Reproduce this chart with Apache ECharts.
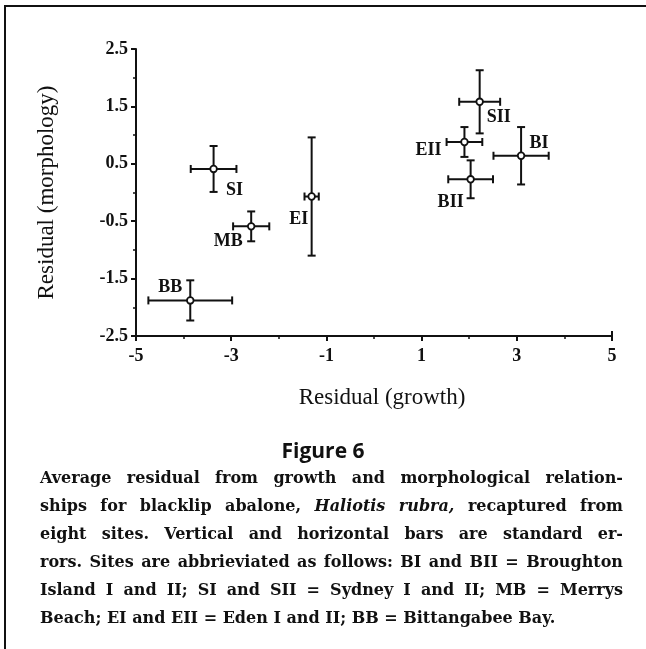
<!DOCTYPE html>
<html>
<head>
<meta charset="utf-8">
<script src="https://cdn.jsdelivr.net/npm/echarts@6/dist/echarts.min.js"></script>
<style>
  html, body { margin: 0; padding: 0; background: #fff; }
  #wrap { position: relative; width: 646px; height: 649px; overflow: hidden; }
  #frame { position: absolute; left: 4px; top: 5px; width: 700px; height: 700px;
           border-left: 2px solid #111; border-top: 2px solid #111; }
  #chart { position: absolute; left: 0; top: 0; width: 646px; height: 649px; }
  #caption { position: absolute; left: 40px; top: 464px; width: 583px;
             font-family: "DejaVu Serif", serif; font-weight: bold; font-size: 16px;
             line-height: 28px; color: #111; }
  #caption div { text-align: justify; text-align-last: justify; white-space: nowrap; }
  #caption div.last { text-align-last: left; }
</style>
</head>
<body>
<div id="wrap">
  <div id="frame"></div>
  <div id="chart"></div>
  <div id="caption">
    <div>Average residual from growth and morphological relation-</div>
    <div>ships for blacklip abalone, <i>Haliotis rubra,</i> recaptured from</div>
    <div>eight sites. Vertical and horizontal bars are standard er-</div>
    <div>rors. Sites are abbrieviated as follows: BI and BII = Broughton</div>
    <div>Island I and II; SI and SII = Sydney I and II; MB = Merrys</div>
    <div class="last">Beach; EI and EII = Eden I and II; BB = Bittangabee Bay.</div>
  </div>
</div>
<script>
// site data
var sites = ['SI', 'MB', 'BB', 'EI', 'EII', 'SII', 'BII', 'BI'];
var growth = [-3.37, -2.58, -3.86, -1.31, 1.90, 2.22, 2.03, 3.09];
var morph = [0.41, -0.59, -1.88, -0.07, 0.88, 1.58, 0.23, 0.64];
var growthSE = [0.48, 0.38, 0.88, 0.15, 0.375, 0.43, 0.47, 0.58];
var morphSE = [0.40, 0.26, 0.35, 1.03, 0.26, 0.55, 0.33, 0.50];

// label placement (px from point)
var labelOffsets = [[21, 21], [-23, 15], [-20, -13], [-13, 23], [-36, 8], [19, 16], [-20, 23], [18, -12]];

var chart = echarts.init(document.getElementById('chart'));

var data = sites.map(function (s, i) {
  return [growth[i], morph[i], growthSE[i], morphSE[i], i];
});

var ink = '#111';
var serif = '"Liberation Serif", "Times New Roman", serif';

function renderItem(params, api) {
  var x = api.value(0), y = api.value(1);
  var sx = api.value(2), sy = api.value(3);
  var i = api.value(4);
  var c = api.coord([x, y]);
  var l = api.coord([x - sx, y]);
  var r = api.coord([x + sx, y]);
  var t = api.coord([x, y + sy]);
  var b = api.coord([x, y - sy]);
  var cap = 4;
  var ls = { stroke: ink, lineWidth: 2 };
  var off = labelOffsets[i];
  return {
    type: 'group',
    children: [
      { type: 'line', shape: { x1: l[0], y1: l[1], x2: r[0], y2: r[1] }, style: ls },
      { type: 'line', shape: { x1: t[0], y1: t[1], x2: b[0], y2: b[1] }, style: ls },
      { type: 'line', shape: { x1: l[0], y1: l[1] - cap, x2: l[0], y2: l[1] + cap }, style: ls },
      { type: 'line', shape: { x1: r[0], y1: r[1] - cap, x2: r[0], y2: r[1] + cap }, style: ls },
      { type: 'line', shape: { x1: t[0] - cap, y1: t[1], x2: t[0] + cap, y2: t[1] }, style: ls },
      { type: 'line', shape: { x1: b[0] - cap, y1: b[1], x2: b[0] + cap, y2: b[1] }, style: ls },
      { type: 'circle', shape: { cx: c[0], cy: c[1], r: 3.3 }, style: { fill: '#fff', stroke: ink, lineWidth: 1.8 } },
      { type: 'text', x: c[0] + off[0], y: c[1] + off[1],
        style: { text: sites[i], fill: ink, font: 'bold 18px ' + serif, align: 'center', verticalAlign: 'middle' } }
    ]
  };
}

var option = {
  animation: false,
  grid: { left: 136, right: 34, top: 49, bottom: 313 },
  xAxis: {
    type: 'value', min: -5, max: 5, interval: 2,
    name: 'Residual (growth)', nameLocation: 'middle', nameGap: 50,
    nameTextStyle: { color: ink, fontFamily: serif, fontSize: 23, padding: [0, 0, 0, 16] },
    axisLine: { onZero: false, lineStyle: { color: ink, width: 2 } },
    axisTick: { show: true, length: 5, lineStyle: { color: ink, width: 2 } },
    minorTick: { show: true, splitNumber: 2, length: 3, lineStyle: { color: ink, width: 1.5 } },
    axisLabel: { color: ink, fontFamily: serif, fontWeight: 'bold', fontSize: 18, margin: 11 },
    splitLine: { show: false }
  },
  yAxis: {
    type: 'value', min: -2.5, max: 2.5, interval: 1,
    name: 'Residual (morphology)', nameLocation: 'middle', nameGap: 78,
    nameTextStyle: { color: ink, fontFamily: serif, fontSize: 23 },
    axisLine: { onZero: false, lineStyle: { color: ink, width: 2 } },
    axisTick: { show: true, length: 5, lineStyle: { color: ink, width: 2 } },
    minorTick: { show: true, splitNumber: 2, length: 3, lineStyle: { color: ink, width: 1.5 } },
    axisLabel: { color: ink, fontFamily: serif, fontWeight: 'bold', fontSize: 18, margin: 8 },
    splitLine: { show: false }
  },
  title: {
    text: 'Figure 6', left: 'center', top: 437,
    textStyle: { fontFamily: '"Open Sans", sans-serif', fontWeight: 'bold', fontSize: 21, color: ink }
  },
  series: [{
    type: 'custom',
    renderItem: renderItem,
    encode: { x: 0, y: 1 },
    data: data,
    z: 10
  }]
};

chart.setOption(option);

// small end caps on the axes (top of y axis, right end of x axis)
var top = chart.convertToPixel({ gridIndex: 0 }, [-5, 2.5]);
var end = chart.convertToPixel({ gridIndex: 0 }, [5, -2.5]);
chart.setOption({
  graphic: [
    { type: 'line', shape: { x1: top[0], y1: top[1], x2: top[0] + 5, y2: top[1] }, style: { stroke: ink, lineWidth: 2 } },
    { type: 'line', shape: { x1: end[0], y1: end[1], x2: end[0], y2: end[1] - 5 }, style: { stroke: ink, lineWidth: 2 } }
  ]
});
</script>
</body>
</html>
